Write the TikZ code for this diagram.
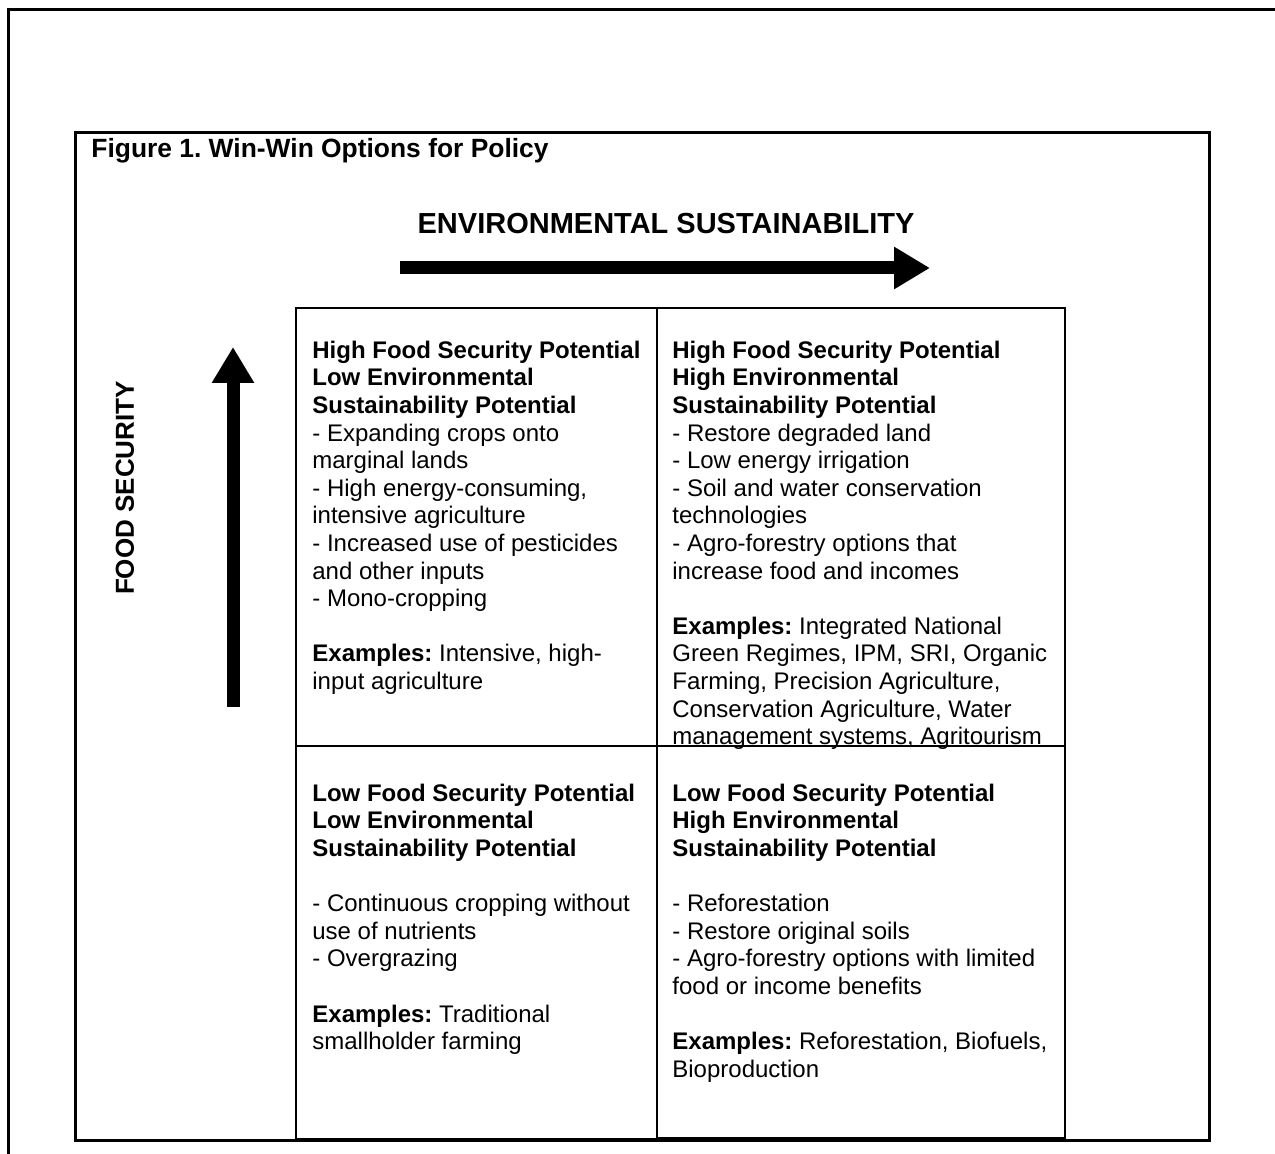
\documentclass[tikz,border=0pt]{standalone}
\usepackage{fontspec}
\setmainfont{Liberation Sans}
\usetikzlibrary{arrows.meta}
\frenchspacing

\begin{document}
\begin{tikzpicture}[x=0.5pt,y=-0.5pt,
    frame/.style={line width=1.5pt},
    grid/.style={line width=1.3pt},
    cell/.style={anchor=north west,align=left,inner sep=0pt,font=\fontsize{12}{13.8}\selectfont},
    axislabel/.style={inner sep=0pt,font=\bfseries\fontsize{#1}{#1}\selectfont},
    bigarrow/.style={line width=6.5pt,-{Triangle[length=18pt,width=20pt]}}]
  \useasboundingbox (0,0) rectangle (1275,1154);

  % page frame, open at right and bottom
  \draw[frame] (8,1154) -- (8,10) -- (1275,10);
  % figure frame
  \draw[frame] (75,133) rectangle (1209,1140);

  \node[anchor=base west,inner sep=0pt,font=\bfseries\fontsize{13.2}{15}\selectfont] (title) at (91,158) {Figure 1. Win-Win Options for Policy};

  % axes
  \node[axislabel=14.5] (envlabel) at (666,224) {ENVIRONMENTAL SUSTAINABILITY};
  \node[axislabel=13,rotate=90] (foodlabel) at (125,488) {FOOD SECURITY};
  \coordinate (envstart) at (400,268);
  \coordinate (envend) at (930,268);
  \coordinate (foodstart) at (233,707);
  \coordinate (foodend) at (233,347);
  \draw[bigarrow] (envstart) -- (envend);
  \draw[bigarrow] (foodstart) -- (foodend);

  % quadrants
  \draw[grid] (296,308) rectangle (1065,1139);
  \draw[grid] (657,308) -- (657,1139);
  \draw[grid] (296,746) -- (1065,746);
  \draw[line width=2.4pt] (657,1139) -- (1065,1139);

  \node[cell] (highlow) at (312,340.5) {\textbf{High Food Security Potential}\\
    \textbf{Low Environmental}\\
    \textbf{Sustainability Potential}\\
    - Expanding crops onto\\
    marginal lands\\
    - High energy-consuming,\\
    intensive agriculture\\
    - Increased use of pesticides\\
    and other inputs\\
    - Mono-cropping\\[13.8pt]
    \textbf{Examples:} Intensive, high-\\
    input agriculture};

  \node[cell] (highhigh) at (672,340.5) {\textbf{High Food Security Potential}\\
    \textbf{High Environmental}\\
    \textbf{Sustainability Potential}\\
    - Restore degraded land\\
    - Low energy irrigation\\
    - Soil and water conservation\\
    technologies\\
    - Agro-forestry options that\\
    increase food and incomes\\[13.8pt]
    \textbf{Examples:} Integrated National\\
    Green Regimes, IPM, SRI, Organic\\
    Farming, Precision Agriculture,\\
    Conservation Agriculture, Water\\
    management systems, Agritourism};

  \node[cell] (lowlow) at (312,783.5) {\textbf{Low Food Security Potential}\\
    \textbf{Low Environmental}\\
    \textbf{Sustainability Potential}\\[13.8pt]
    - Continuous cropping without\\
    use of nutrients\\
    - Overgrazing\\[13.8pt]
    \textbf{Examples:} Traditional\\
    smallholder farming};

  \node[cell] (lowhigh) at (672,783.5) {\textbf{Low Food Security Potential}\\
    \textbf{High Environmental}\\
    \textbf{Sustainability Potential}\\[13.8pt]
    - Reforestation\\
    - Restore original soils\\
    - Agro-forestry options with limited\\
    food or income benefits\\[13.8pt]
    \textbf{Examples:} Reforestation, Biofuels,\\
    Bioproduction};
\end{tikzpicture}
\end{document}
